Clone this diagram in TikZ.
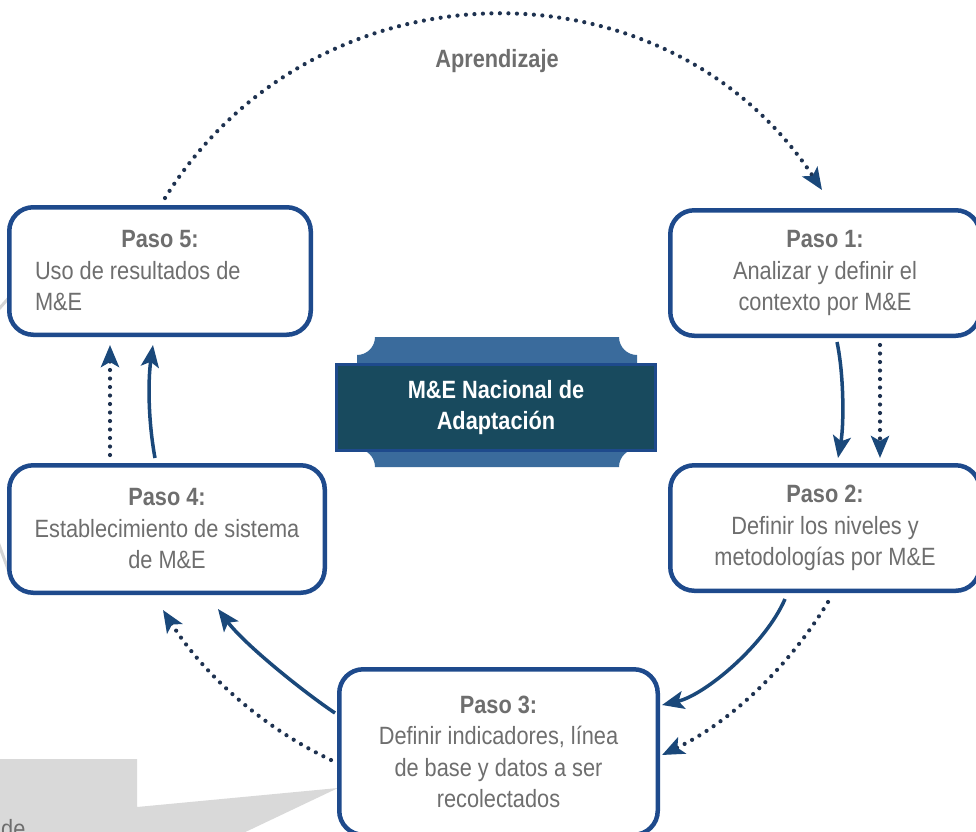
\documentclass[tikz,border=0pt]{standalone}
\usepackage{fontspec}
\setmainfont{Liberation Sans}[FakeStretch=0.87]
\usetikzlibrary{arrows.meta,calc}
\definecolor{boxblue}{RGB}{30,74,140}
\definecolor{arrowblue}{RGB}{26,72,122}
\definecolor{dotnavy}{RGB}{30,50,80}
\definecolor{txtgray}{RGB}{110,110,110}
\definecolor{plaquelight}{RGB}{58,107,156}
\definecolor{plaquedark}{RGB}{24,74,94}
\definecolor{callgray}{RGB}{217,217,217}
\definecolor{ringgray}{RGB}{212,212,212}
\begin{document}
\begin{tikzpicture}[x=1pt,y=-1pt,
  stepbox/.style={draw=boxblue, line width=4.5pt, rounded corners=24pt, fill=white,
    text=txtgray, font=\fontsize{25}{31.5}\selectfont, inner sep=0pt, align=center},
  tipshape/.style={-{Stealth[length=22pt,width=18pt,inset=5pt,color=arrowblue]}},
  solidarrow/.style={draw=arrowblue, line width=3.5pt, tipshape},
  dotarrow/.style={draw=dotnavy, line width=4.2pt, line cap=round,
    dash pattern=on 0pt off 8.5pt, tipshape},
  ringpiece/.style={draw=ringgray, line width=3pt},
]
\useasboundingbox (0,0) rectangle (976,831);
\fill[white] (0,0) rectangle (976,831);

% light grey background pieces
\draw[ringpiece] (-2,310) -- (14,292);
\draw[ringpiece] (-2,542) -- (12,580);
\fill[callgray] (0,759) -- (137,759) -- (137,807) -- (338,788) -- (218,845) -- (0,845) -- cycle;
\node[anchor=base west, inner sep=0pt, text=txtgray, font=\fontsize{25}{30}\selectfont] (cuttext) at (1,837) {de};

% step boxes
\node[stepbox, minimum width=301.5pt, minimum height=127.5pt, align=left] (p5) at (160,271)
  {\makebox[250pt][c]{\textbf{Paso 5:}}\\Uso de resultados de\\M\&E};
\node[stepbox, minimum width=315.5pt, minimum height=127.5pt] (p4) at (167,529)
  {\textbf{Paso 4:}\\Establecimiento de sistema\\de M\&E};
\node[stepbox, minimum width=309.5pt, minimum height=125.5pt] (p1) at (825,273)
  {\textbf{Paso 1:}\\Analizar y definir el\\contexto por M\&E};
\node[stepbox, minimum width=309.5pt, minimum height=125.5pt] (p2) at (825,528)
  {\textbf{Paso 2:}\\Definir los niveles y\\metodologías por M\&E};
\node[stepbox, minimum width=318.5pt, minimum height=165.5pt] (p3) at (498.5,752)
  {\textbf{Paso 3:}\\Definir indicadores, línea\\de base y datos a ser\\recolectados};

% central plaque
\fill[plaquelight] (375,337) -- (619,337) arc[start angle=180,end angle=270,radius=18pt]
  -- (637,449) arc[start angle=90,end angle=180,radius=18pt]
  -- (375,467) arc[start angle=0,end angle=90,radius=18pt]
  -- (357,355) arc[start angle=270,end angle=360,radius=18pt] -- cycle;
\node[draw=boxblue, line width=3pt, fill=plaquedark, minimum width=319pt, minimum height=86pt,
  inner sep=0pt, text=white, font=\bfseries\fontsize{25}{31}\selectfont, align=center]
  (center) at (496,407.5) {M\&E Nacional de\\Adaptación};

% learning arc
\node[anchor=base, inner sep=0pt, text=txtgray, font=\bfseries\fontsize{25}{30}\selectfont] (learn) at (497,67) {Aprendizaje};
\draw[dotarrow] ($(p5.north)+(5,-7)$) .. controls (315,-42.6) and (666,-46.7) .. ($(p1.north)+(-3,-18)$);

% step 1 -> step 2
\draw[solidarrow] ($(p1.south)+(12,4)$) .. controls (844,375) and (844,425) .. ($(p2.north)+(13,-5)$);
\draw[dotarrow] ($(p1.south)+(55,7)$) -- ($(p2.north)+(55,-5)$);

% step 2 -> step 3
\draw[solidarrow] ($(p2.south)+(-40,6)$) .. controls (765,645) and (705,695) .. ($(p3.east)+(2,-47)$);
\draw[dotarrow] ($(p2.south)+(3,9)$) .. controls (788.5,667.1) and (730.6,722.1) .. ($(p3.east)+(2,3)$);

% step 3 -> step 4
\draw[solidarrow] ($(p3.west)+(-2,-39)$) .. controls (305,693) and (245,645) .. ($(p4.south)+(51,14)$);
\draw[dotarrow] ($(p3.west)+(-6,8)$) .. controls (262.5,727.4) and (203.4,674.4) .. ($(p4.south)+(-4,15)$);

% step 4 -> step 5
\draw[solidarrow] ($(p4.north)+(-12,-5)$) .. controls (148,420) and (148,380) .. ($(p5.south)+(-7,8)$);
\draw[dotarrow] ($(p4.north)+(-57,-8)$) -- ($(p5.south)+(-50,8)$);
\end{tikzpicture}
\end{document}
